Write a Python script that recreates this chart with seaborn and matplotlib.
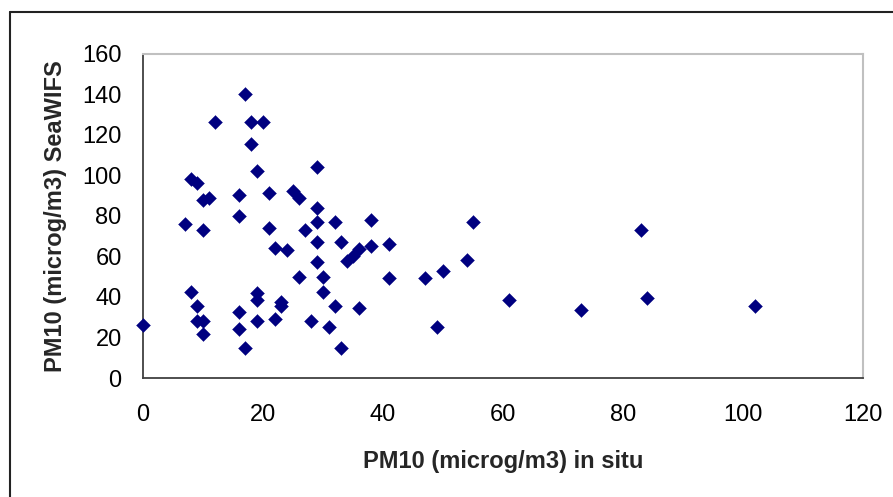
import numpy as np
import pandas as pd
import matplotlib
matplotlib.use("Agg")
import matplotlib.pyplot as plt
import seaborn as sns
from matplotlib.lines import Line2D

# PM10 in situ vs SeaWIFS estimate (microg/m3)
in_situ = [0, 7, 8, 8, 9, 9, 9, 10, 10, 10, 10, 11, 12, 16, 16, 16, 16, 17, 17,
           18, 18, 19, 19, 19, 19, 20, 21, 21, 22, 22, 23, 23, 24, 25, 26, 26,
           27, 28, 29, 29, 29, 29, 29, 30, 30, 31, 32, 32, 33, 33, 34, 35, 36,
           36, 38, 38, 41, 41, 47, 49, 50, 54, 55, 61, 73, 83, 84, 102]
seawifs = [26, 76, 98, 42.5, 96, 35.5, 28, 88, 73, 28, 21.5, 89, 126, 90, 80,
           32.5, 24, 140, 15, 126, 115.5, 102, 42, 38.5, 28, 126, 91, 74, 64,
           29, 37.5, 35.5, 63, 92, 89, 50, 73, 28, 104, 84, 77, 67, 57, 50,
           42.5, 25, 77, 35.5, 67, 15, 57.5, 60, 63.5, 34.5, 78, 65, 66, 49.5,
           49.5, 25, 53, 58, 77, 38.5, 33.5, 73, 39.5, 35.5]

x_ticks = [0, 20, 40, 60, 80, 100, 120]
y_ticks = [0, 20, 40, 60, 80, 100, 120, 140, 160]

df = pd.DataFrame({"in_situ": in_situ, "seawifs": seawifs})

sns.set_style("white")
plt.rcParams["font.family"] = ["Liberation Sans", "DejaVu Sans"]

fig = plt.figure(figsize=(8.93, 4.97), dpi=100)
ax = fig.add_axes([0.1596, 0.2394, 0.8068, 0.6529])

sns.scatterplot(data=df, x="in_situ", y="seawifs", ax=ax, marker="D",
                s=50, color="#000080", edgecolor="#000080", linewidth=0.3,
                clip_on=False, zorder=3)

ax.set_xlim(0, 120)
ax.set_ylim(0, 160)
ax.set_xticks(x_ticks)
ax.set_yticks(y_ticks)
ax.tick_params(axis="both", direction="out", length=6, width=1,
               color="#404040", labelsize=17, labelcolor="black")
ax.tick_params(axis="x", pad=13)
ax.tick_params(axis="y", pad=9)

for side in ["left", "bottom"]:
    ax.spines[side].set_color("#404040")
    ax.spines[side].set_linewidth(1.3)
for side in ["top", "right"]:
    ax.spines[side].set_color("#c0c0c0")
    ax.spines[side].set_linewidth(1.5)

ax.set_xlabel("PM10 (microg/m3) in situ", fontsize=17, fontweight="bold",
              labelpad=17)
ax.set_ylabel("PM10 (microg/m3) SeaWIFS", fontsize=17, fontweight="bold",
              labelpad=11)

# chart area border (only the top and left edges are inside the picture)
fig.add_artist(Line2D([10 / 893, 10 / 893], [0, 1 - 12 / 497],
                      transform=fig.transFigure, color="#222222", lw=1.5))
fig.add_artist(Line2D([10 / 893, 1], [1 - 12 / 497, 1 - 12 / 497],
                      transform=fig.transFigure, color="#222222", lw=1.5))

fig.savefig("out.png", dpi=100)
